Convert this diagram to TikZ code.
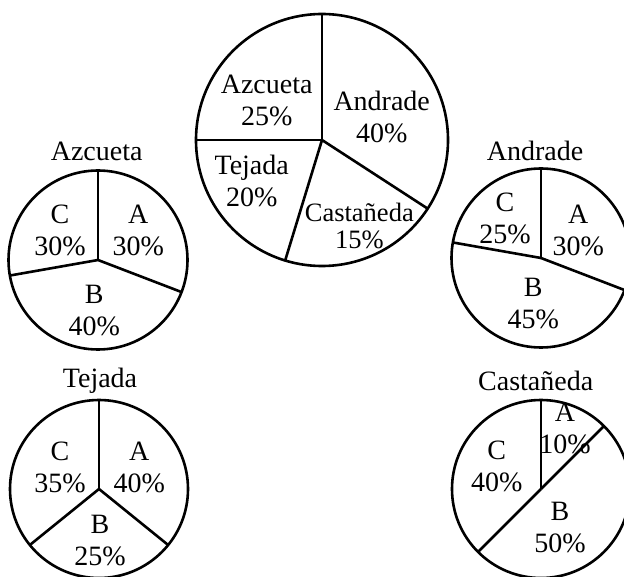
\documentclass[tikz,border=0pt]{standalone}
\usepackage{fontspec}
\setmainfont{Liberation Serif}
\usepackage{tikz}
\tikzset{every picture/.style={line width=2.6pt}}
\tikzset{
  pietxt/.style={align=center, inner sep=0pt, font=\fontsize{28}{32}\selectfont},
  pietitle/.style={inner sep=0pt, font=\fontsize{28}{32}\selectfont},
}

\begin{document}
\begin{tikzpicture}[x=1pt,y=-1pt]
\useasboundingbox (0,0) rectangle (624,577);

%Shape: Circle [big pie]
\coordinate (big) at (322,140);
\draw (big) circle (126pt);
%Straight Lines
\draw (big) -- ++(90:126pt);
\draw (big) -- ++(180:126pt);
\draw (big) -- ++(253:126pt);
\draw (big) -- ++(327:126pt);

%Shape: Circle [Azcueta]
\coordinate (azc) at (98,260);
\draw (azc) circle (89.5pt);
%Straight Lines
\draw (azc) -- ++(90:89.5pt);
\draw (azc) -- ++(339:89.5pt);
\draw (azc) -- ++(190:89.5pt);

%Shape: Circle [Andrade]
\coordinate (and) at (541,258);
\draw (and) circle (89.5pt);
%Straight Lines
\draw (and) -- ++(90:89.5pt);
\draw (and) -- ++(170:89.5pt);
\draw (and) -- ++(339:89.5pt);

%Shape: Circle [Tejada]
\coordinate (tej) at (99,489);
\draw (tej) circle (89pt);
%Straight Lines
\draw (tej) -- ++(90:89pt);
\draw (tej) -- ++(321:89pt);
\draw (tej) -- ++(219:89pt);

%Shape: Circle [Castaneda]
\coordinate (cas) at (541,489);
\draw (cas) circle (89pt);
%Straight Lines
\draw (cas) -- ++(90:89pt);
\draw (cas) -- ++(45:89pt);
\draw (cas) -- ++(225:89pt);

% Text Node
\node (bigazc) [pietxt] at (266.7,100.8) {Azcueta\\25\%};
% Text Node
\node (bigand) [pietxt] at (381.7,116.7) {Andrade\\40\%};
% Text Node
\node (bigtej) [pietxt] at (251.7,180.8) {Tejada\\20\%};
% Text Node
\node (bigcas) [pietxt, font=\fontsize{26.5}{27}\selectfont] at (359.3,225.8) {Castañeda\\15\%};

% Text Node
\node (azctitle) [pietitle] at (96.7,151.7) {Azcueta};
% Text Node
\node (azcC) [pietxt] at (60,230) {C\\30\%};
% Text Node
\node (azcA) [pietxt] at (138.3,230) {A\\30\%};
% Text Node
\node (azcB) [pietxt] at (94.3,311) {B\\40\%};

% Text Node
\node (andtitle) [pietitle] at (535,150.7) {Andrade};
% Text Node
\node (andC) [pietxt] at (505,218.3) {C\\25\%};
% Text Node
\node (andA) [pietxt] at (578.3,230) {A\\30\%};
% Text Node
\node (andB) [pietxt] at (533.3,303.3) {B\\45\%};

% Text Node
\node (tejtitle) [pietitle] at (100,380.7) {Tejada};
% Text Node
\node (tejC) [pietxt] at (60,467.5) {C\\35\%};
% Text Node
\node (tejA) [pietxt] at (139.3,467.5) {A\\40\%};
% Text Node
\node (tejB) [pietxt] at (100,541) {B\\25\%};

% Text Node
\node (castitle) [pietitle] at (535.7,380.7) {Castañeda};
% Text Node
\node (casC) [pietxt] at (496.7,466.7) {C\\40\%};
% Text Node
\node (casA) [pietxt] at (565,428.3) {A\\10\%};
% Text Node
\node (casB) [pietxt] at (560,527.5) {B\\50\%};

\end{tikzpicture}
\end{document}
